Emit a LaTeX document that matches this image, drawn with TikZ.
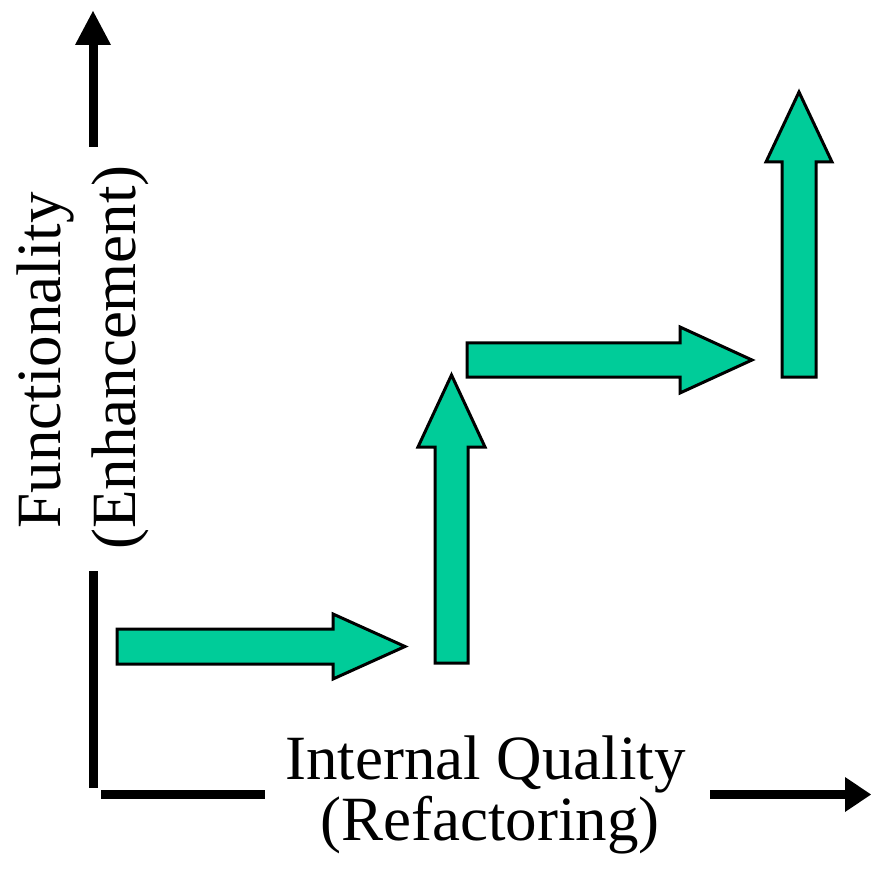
\documentclass[tikz,border=0pt]{standalone}
\usepackage{fontspec}
\setmainfont{Liberation Serif}
\usetikzlibrary{arrows.meta}
\definecolor{stepgreen}{RGB}{0,204,153}
\begin{document}
\begin{tikzpicture}[x=1pt,y=-1pt,
  axisline/.style={line width=9pt,line cap=butt},
  axishead/.style={fill=black,draw=none},
  growth/.style={fill=stepgreen,draw=black,line width=3pt,line join=miter},
  label/.style={inner sep=0pt,outer sep=0pt,anchor=base,
    font=\fontsize{63}{63}\selectfont}]
\useasboundingbox[fill=white] (0,0) rectangle (871,869);

% axis end points
\coordinate (yhigh) at (93,147);
\coordinate (ybase) at (93,45);
\coordinate (ylow)  at (93,571);
\coordinate (origin) at (93,788);
\coordinate (xstart) at (101,794.5);
\coordinate (xleft) at (265,794.5);
\coordinate (xright) at (710,794.5);
\coordinate (xbase) at (845,794.5);

% vertical axis (split around its label)
\draw[axisline] (yhigh) -- (ybase);
\fill[axishead] (75,45) -- (93,11) -- (111,45) -- cycle;
\draw[axisline] (ylow) -- (origin);

% horizontal axis (split around its label)
\draw[axisline] (xstart) -- (xleft);
\draw[axisline] (xright) -- (xbase);
\fill[axishead] (845,777) -- (871,794.5) -- (845,812) -- cycle;

% staircase of green block arrows
\draw[growth] (117,629) -- (333,629) -- (333,614) -- (405,646.5)
  -- (333,679) -- (333,664) -- (117,664) -- cycle;
\draw[growth] (435,663) -- (435,447) -- (418,447) -- (451.5,375)
  -- (485,447) -- (468,447) -- (468,663) -- cycle;
\draw[growth] (467,343) -- (680,343) -- (680,327) -- (752,360)
  -- (680,393) -- (680,377) -- (467,377) -- cycle;
\draw[growth] (782,377) -- (782,162) -- (766,162) -- (799,92)
  -- (832,162) -- (816,162) -- (816,377) -- cycle;

% axis labels
\node[label] (xl1) at (485.5,779) {Internal Quality};
\node[label] (xl2) at (490,840) {(Refactoring)};
\node[label,rotate=90] (yl1) at (60,360.5) {Functionality};
\node[label,rotate=90] (yl2) at (135,357.5) {(Enhancement)};
\end{tikzpicture}
\end{document}
